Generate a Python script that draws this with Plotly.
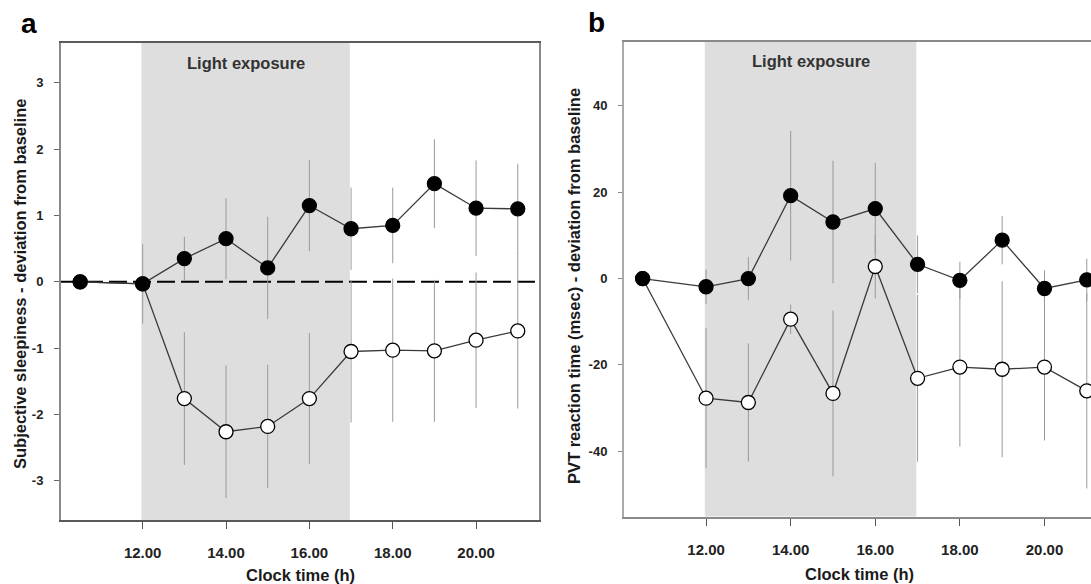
import plotly.graph_objects as go

# ---------------- data ----------------
TIMES = [10.5, 12, 13, 14, 15, 16, 17, 18, 19, 20, 21]

# Panel a: subjective sleepiness (deviation from baseline)
A_FILLED = [0.0, -0.03, 0.35, 0.65, 0.21, 1.15, 0.80, 0.85, 1.48, 1.11, 1.10]
A_FILLED_ERR = [0.0, 0.60, 0.33, 0.61, 0.77, 0.69, 0.62, 0.57, 0.67, 0.72, 0.68]
A_OPEN = [0.0, -0.03, -1.76, -2.26, -2.18, -1.76, -1.05, -1.03, -1.04, -0.88, -0.74]
A_OPEN_ERR = [0.0, 0.0, 1.00, 1.00, 0.93, 0.99, 1.07, 1.08, 1.07, 1.02, 1.17]

# Panel b: PVT reaction time (msec) (deviation from baseline)
B_FILLED = [0.0, -1.9, 0.0, 19.2, 13.1, 16.2, 3.3, -0.4, 8.9, -2.3, -0.3]
B_FILLED_ERR = [0.0, 4.0, 5.0, 15.0, 14.2, 10.6, 6.7, 4.3, 5.6, 4.2, 4.9]
B_OPEN = [0.0, -27.7, -28.7, -9.4, -26.6, 2.8, -23.1, -20.5, -21.0, -20.5, -26.0]
B_OPEN_ERR = [0.0, 16.2, 13.7, 3.4, 19.2, 7.4, 19.3, 18.4, 20.4, 17.0, 22.6]

LIGHT_START, LIGHT_END = 11.97, 16.97
LIGHT_LABEL = "Light exposure"

X_TICK_VALS = [12, 14, 16, 18, 20]
X_TICK_TEXT = ["12.00", "14.00", "16.00", "18.00", "20.00"]
A_Y_TICKS = [-3, -2, -1, 0, 1, 2, 3]
A_Y_TICK_TEXT = ["-3", "-2", "-1", "0", "1", "2", "3"]
B_Y_TICKS = [-40, -20, 0, 20, 40]
B_Y_TICK_TEXT = ["-40", "-20", "0", "20", "40"]

X_TITLE = "Clock time (h)"
A_Y_TITLE = "Subjective sleepiness - deviation from baseline"
B_Y_TITLE = "PVT reaction time (msec) - deviation from baseline"

# ---------------- figure ----------------
W, H = 1091, 584
FONT = "Liberation Sans, Arial, sans-serif"
LINE_COL = "#3a3a3a"
ERR_COL = "#9a9a9a"

fig = go.Figure()


def add_series(xa, ya, y, err, filled):
    fig.add_trace(go.Scatter(
        x=TIMES, y=y, xaxis=xa, yaxis=ya, mode="lines+markers",
        line=dict(color=LINE_COL, width=1.3),
        marker=dict(size=14, color="black" if filled else "white",
                    line=dict(color="black", width=1.3)),
        error_y=dict(type="data", array=err, visible=True,
                     color=ERR_COL, thickness=1, width=0),
        showlegend=False, hoverinfo="x+y"))


add_series("x", "y", A_OPEN, A_OPEN_ERR, False)
add_series("x", "y", A_FILLED, A_FILLED_ERR, True)
add_series("x2", "y2", B_OPEN, B_OPEN_ERR, False)
add_series("x2", "y2", B_FILLED, B_FILLED_ERR, True)

tick_font_x = dict(family=FONT, size=15, color="#222", weight="bold")
tick_font_y = dict(family=FONT, size=13, color="#222", weight="bold")
title_font = dict(family=FONT, size=16.5, color="#1a1a1a", weight="bold")

common_x = dict(tickvals=X_TICK_VALS, ticktext=X_TICK_TEXT, ticks="outside",
                ticklen=7, tickcolor="#555", tickfont=tick_font_x,
                showgrid=False, zeroline=False, showline=True,
                linewidth=2, ticklabelstandoff=11)

fig.update_layout(
    width=W, height=H,
    margin=dict(l=0, r=0, t=0, b=0),
    paper_bgcolor="white", plot_bgcolor="white",
    font=dict(family=FONT),
    xaxis=dict(domain=[61 / W, 539 / W], range=[10.04, 21.51],
               linecolor="#5a5a5a", mirror=True, anchor="y", **common_x),
    yaxis=dict(domain=[1 - 520 / H, 1 - 43 / H], range=[-3.59, 3.60],
               tickvals=A_Y_TICKS, ticktext=A_Y_TICK_TEXT, ticks="outside",
               ticklen=5, tickcolor="#666", tickfont=tick_font_y,
               showgrid=False, zeroline=False, showline=True,
               linecolor="#8a8a8a", linewidth=2, mirror=True,
               ticklabelstandoff=8, anchor="x"),
    xaxis2=dict(domain=[624 / W, 1.0], range=[10.06, 21.10],
                linecolor="#8a8a8a", mirror=True, anchor="y2", **common_x),
    yaxis2=dict(domain=[1 - 516.5 / H, 1 - 41.5 / H], range=[-55.1, 54.9],
                tickvals=B_Y_TICKS, ticktext=B_Y_TICK_TEXT, ticks="outside",
                ticklen=4, tickcolor="#888", tickfont=tick_font_y,
                showgrid=False, zeroline=False, showline=True,
                linecolor="#aaaaaa", linewidth=2, mirror=False,
                ticklabelstandoff=8, anchor="x2"),
)

# axis titles
fig.add_annotation(x=300 / W, y=1 - 575 / H, xref="paper", yref="paper",
                   text=X_TITLE, showarrow=False, font=title_font,
                   xanchor="center", yanchor="middle")
fig.add_annotation(x=860 / W, y=1 - 574 / H, xref="paper", yref="paper",
                   text=X_TITLE, showarrow=False, font=title_font,
                   xanchor="center", yanchor="middle")
fig.add_annotation(x=20 / W, y=1 - 284 / H, xref="paper", yref="paper",
                   text=A_Y_TITLE, showarrow=False, font=title_font,
                   textangle=-90, xanchor="center", yanchor="middle")
fig.add_annotation(x=574 / W, y=1 - 286 / H, xref="paper", yref="paper",
                   text=B_Y_TITLE, showarrow=False, font=title_font,
                   textangle=-90, xanchor="center", yanchor="middle")

# light exposure shading
for xr, yr in (("x", "y"), ("x2", "y2")):
    fig.add_shape(type="rect", xref=xr, yref=f"{yr} domain",
                  x0=LIGHT_START, x1=LIGHT_END, y0=0, y1=1,
                  fillcolor="#dedede", line=dict(width=0), layer="below")
    fig.add_annotation(x=(LIGHT_START + LIGHT_END) / 2, y=0.958,
                       xref=xr, yref=f"{yr} domain", text=LIGHT_LABEL,
                       showarrow=False, yanchor="middle",
                       font=dict(family=FONT, size=16.5, color="#333",
                                 weight="bold"))

# baseline reference (panel a)
fig.add_shape(type="line", xref="x domain", yref="y", x0=0, x1=1,
              y0=0, y1=0, line=dict(color="black", width=2,
                                    dash="18px,6px"), layer="below")

# panel letters
fig.add_annotation(x=19 / W, y=1 - 24 / H, xref="paper", yref="paper",
                   text="a", showarrow=False, xanchor="left",
                   yanchor="middle",
                   font=dict(family=FONT, size=28, color="black",
                             weight="bold"))
fig.add_annotation(x=586 / W, y=1 - 22 / H, xref="paper", yref="paper",
                   text="b", showarrow=False, xanchor="left",
                   yanchor="middle",
                   font=dict(family=FONT, size=28, color="black",
                             weight="bold"))

fig.write_html("out.html")
